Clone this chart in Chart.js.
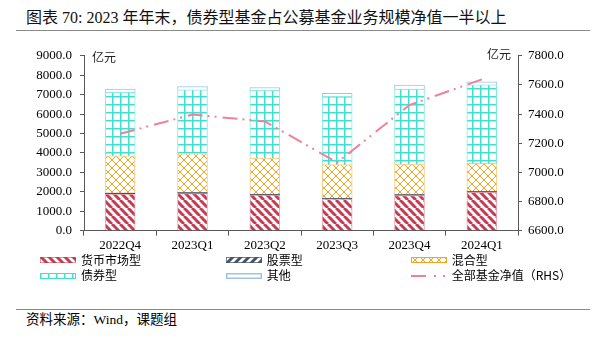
<!DOCTYPE html>
<html><head><meta charset="utf-8">
<script src="https://cdn.jsdelivr.net/npm/chart.js@4/dist/chart.umd.min.js"></script>
<style>
html,body{margin:0;padding:0;background:#fff;width:607px;height:342px;overflow:hidden;position:relative;font-family:"Liberation Serif","Noto Sans CJK SC",serif;color:#000}
.abs{position:absolute;white-space:nowrap}
#title{left:26px;top:8px;font-size:16px;line-height:20px;color:#111}
.rule{position:absolute;left:16px;width:574px;height:0;border-top:1.5px solid #8a8a8a}
#cv{position:absolute;left:0;top:40px}
.unit{font-family:"Noto Sans CJK SC",sans-serif;font-size:12px;line-height:14px;color:#222}
.lg{font-family:"Noto Sans CJK SC",sans-serif;font-size:12px;line-height:14px}
.sw{position:absolute}
#src{left:26px;top:311px;font-size:13.5px;line-height:18px}
</style></head>
<body>
<div id="title" class="abs">图表 70: 2023 年年末，债券型基金占公募基金业务规模净值一半以上</div>
<div class="rule" style="top:29.5px"></div>
<canvas id="cv" width="607" height="215"></canvas>
<div class="abs unit" style="left:92px;top:50px">亿元</div>
<div class="abs unit" style="left:487px;top:47px">亿元</div>
<div id="legend"></div>
<div class="rule" style="top:308.5px"></div>
<div id="src" class="abs">资料来源：Wind，课题组</div>
<script>
// ---- data ----
const categories = ["2022Q4","2023Q1","2023Q2","2023Q3","2023Q4","2024Q1"];
const moneyMarket = [1890, 1910, 1830, 1625, 1810, 1980];
const stockFund   = [60, 60, 55, 55, 60, 60];
const mixedFund   = [1906, 2004, 1854, 1718, 1563, 1424];
const bondFund    = [3261, 3280, 3479, 3515, 3852, 4045];
const otherFund   = [168, 168, 153, 153, 204, 153];
const totalNAV    = [7265, 7397, 7350, 7068, 7462, 7638];
const seriesNames = ["货币市场型","股票型","混合型","债券型","其他","全部基金净值（RHS）"];
const leftTicks = {min:0, max:9000, step:1000};
const rightTicks = {min:6600, max:7800, step:200};

const cv = document.getElementById('cv');
const ctx = cv.getContext('2d');

function makePattern(size, draw){
  const c = document.createElement('canvas');
  c.width = size; c.height = size;
  const x = c.getContext('2d');
  x.fillStyle = '#fff'; x.fillRect(0,0,size,size);
  draw(x,size);
  return c;
}
const RED='#c73a50', SLATE='#44546a', ORANGE='#f5a21c', TURQ='#3fe0d0', LBLUE='#9dc3e6', PINK='#f0819b';
const pMoney = makePattern(8,(x,s)=>{x.strokeStyle=RED;x.lineWidth=3;for(const k of [-s,0,s]){x.beginPath();x.moveTo(k,0);x.lineTo(k+s,s);x.stroke();}});
const pStock = makePattern(8,(x,s)=>{x.strokeStyle=SLATE;x.lineWidth=3;for(const k of [-s,0,s]){x.beginPath();x.moveTo(k,s);x.lineTo(k+s,0);x.stroke();}});
const pMixed = makePattern(8,(x,s)=>{x.strokeStyle=ORANGE;x.lineWidth=1;for(const k of [-s,0,s]){x.beginPath();x.moveTo(k,0);x.lineTo(k+s,s);x.stroke();x.beginPath();x.moveTo(k,s);x.lineTo(k+s,0);x.stroke();}});
const pBond = makePattern(8,(x,s)=>{x.fillStyle=TURQ;x.fillRect(0,0,1.5,s);x.fillRect(0,0,s,1.5);});
const pOther = makePattern(3,(x,s)=>{x.fillStyle=LBLUE;x.fillRect(0,0,s,1);});
const pat = c => ctx.createPattern(c,'repeat');

const tickFont = {family:'"Liberation Serif", serif', size:13};
const axisColor = '#595959';

new Chart(ctx,{
  type:'bar',
  data:{
    labels:categories,
    datasets:[
      {type:'line',label:seriesNames[5],data:totalNAV,yAxisID:'y1',borderColor:PINK,borderWidth:2,borderDash:[15,5,2,5,2,6],pointRadius:0,tension:0,fill:false,order:0},
      {label:seriesNames[0],data:moneyMarket,backgroundColor:pat(pMoney),borderColor:'rgba(199,58,80,0.45)',borderWidth:1,yAxisID:'y',order:1,barThickness:30},
      {label:seriesNames[1],data:stockFund,backgroundColor:SLATE,borderColor:'rgba(68,84,106,0.6)',borderWidth:0.5,yAxisID:'y',order:1,barThickness:30},
      {label:seriesNames[2],data:mixedFund,backgroundColor:pat(pMixed),borderColor:'rgba(245,162,28,0.55)',borderWidth:1,yAxisID:'y',order:1,barThickness:30},
      {label:seriesNames[3],data:bondFund,backgroundColor:pat(pBond),borderColor:'rgba(63,224,208,0.6)',borderWidth:1,yAxisID:'y',order:1,barThickness:30},
      {label:seriesNames[4],data:otherFund,backgroundColor:'#fff',borderColor:LBLUE,borderWidth:1,yAxisID:'y',order:1,barThickness:30}
    ]
  },
  options:{
    responsive:false,animation:false,devicePixelRatio:1,
    layout:{padding:{top:14,left:0,right:0,bottom:0}},
    plugins:{legend:{display:false},tooltip:{enabled:false}},
    scales:{
      x:{stacked:true,grid:{offset:true,drawOnChartArea:false,tickLength:5,color:axisColor},border:{color:axisColor,width:1},
         ticks:{font:tickFont,color:'#000',padding:2,maxRotation:0},afterFit(s){s.height=24.3;}},
      y:{position:'left',stacked:true,min:leftTicks.min,max:leftTicks.max,
         ticks:{stepSize:leftTicks.step,font:tickFont,color:'#000',padding:8,callback:v=>Number(v).toFixed(1)},
         grid:{drawOnChartArea:false,tickLength:4,color:axisColor},border:{color:axisColor,width:1},afterFit(s){s.width=84;}},
      y1:{position:'right',min:rightTicks.min,max:rightTicks.max,
         ticks:{stepSize:rightTicks.step,font:tickFont,color:'#000',padding:6,callback:v=>Number(v).toFixed(1)},
         grid:{drawOnChartArea:false,tickLength:4,color:axisColor},border:{color:axisColor,width:1},afterFit(s){s.width=89;}}
    }
  }
});

// ---- HTML legend ----
const lg = document.getElementById('legend');
const items = [
  {name:seriesNames[0],x:40,y:260.3,kind:'pat',p:pMoney,b:'rgba(199,58,80,0.5)'},
  {name:seriesNames[1],x:225.7,y:260.3,kind:'pat',p:pStock,b:'rgba(68,84,106,0.7)'},
  {name:seriesNames[2],x:410.7,y:260.3,kind:'pat',p:pMixed,b:ORANGE},
  {name:seriesNames[3],x:40,y:275.7,kind:'pat',p:pBond,b:TURQ},
  {name:seriesNames[4],x:225.7,y:275.7,kind:'other'},
  {name:seriesNames[5],x:410.7,y:275.7,kind:'line'}
];
for(const it of items){
  const c=document.createElement('canvas');c.width=36;c.height=8;c.className='sw';
  c.style.left=it.x+'px';c.style.top=(it.y-4)+'px';
  const x=c.getContext('2d');
  if(it.kind==='pat'){x.fillStyle=x.createPattern(it.p,'repeat');x.fillRect(0,1,36,6);x.strokeStyle=it.b;x.lineWidth=1;x.strokeRect(0.5,1.5,35,5);}
  else if(it.kind==='other'){x.fillStyle='#fff';x.fillRect(0,1,36,6);x.strokeStyle=LBLUE;x.lineWidth=1.5;x.strokeRect(0.75,1.75,34.5,4.5);}
  else {x.strokeStyle=PINK;x.lineWidth=2;x.setLineDash([15,8,2,7,2,20]);x.beginPath();x.moveTo(0,4);x.lineTo(36,4);x.stroke();}
  lg.appendChild(c);
  const t=document.createElement('div');t.className='abs lg';t.textContent=it.name;
  t.style.left=(it.x+41)+'px';t.style.top=(it.y-7.5)+'px';
  lg.appendChild(t);
}
</script>
</body></html>
